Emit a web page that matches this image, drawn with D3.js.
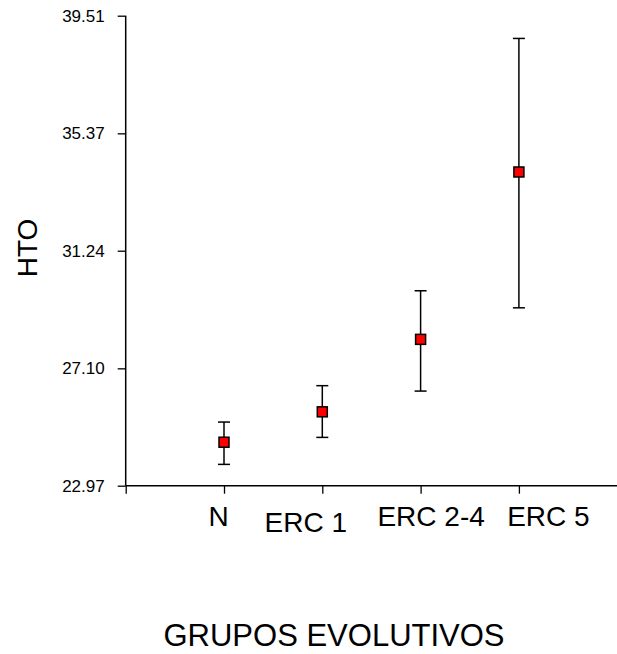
<!DOCTYPE html>
<html>
<head>
<meta charset="utf-8">
<script src="https://cdn.jsdelivr.net/npm/d3@7"></script>
<style>
  body { margin: 0; background: #fff; }
  text { font-family: "Liberation Sans", Arial, sans-serif; fill: #000; }
</style>
</head>
<body>
<div id="chart"></div>
<script>
// groups and HTO values (mean, lower, upper)
var groups = ["N", "ERC 1", "ERC 2-4", "ERC 5"];
var means = [24.50, 25.57, 28.12, 34.01];
var lows = [23.72, 24.67, 26.30, 29.23];
var highs = [25.21, 26.49, 29.83, 38.71];
var yTicks = [22.97, 27.10, 31.24, 35.37, 39.51];

var width = 617, height = 654;
var x0 = 125.7, yTop = 15.7, yBottom = 485.7, step = 98.3;

// category labels are not centred on their ticks in the original
var labelShift = { "N": -6, "ERC 1": -17, "ERC 2-4": 10, "ERC 5": 29 };
var labelDrop = { "ERC 1": 5.5 };

var svg = d3.select('#chart').append('svg')
    .attr("width", width)
    .attr("height", height);

var y = d3.scaleLinear()
    .domain([22.97, 39.51])
    .range([yBottom, yTop]);

var x = d3.scalePoint()
    .domain(["", ...groups])
    .range([x0, x0 + step * groups.length]);

var data = groups.map(function (g, i) {
    return { name: g, mean: means[i], lo: lows[i], hi: highs[i] };
});

// y axis
var yAxis = svg.append("g")
    .attr("transform", "translate(" + x0 + ",0)")
    .call(d3.axisLeft(y).tickValues(yTicks).tickFormat(d3.format(".2f")).tickSize(8).tickPadding(13));
yAxis.attr("font-size", 17).attr("font-family", "'Liberation Sans', Arial, sans-serif");
yAxis.select(".domain").attr("d", "M0," + yTop + "V" + yBottom).attr("stroke-width", 1.5);
yAxis.selectAll(".tick line").attr("stroke-width", 1.3);
yAxis.selectAll("text").attr("fill", "#000");

// x axis
var xAxis = svg.append("g")
    .attr("transform", "translate(0," + yBottom + ")")
    .call(d3.axisBottom(x).tickSize(8).tickPadding(14));
xAxis.attr("font-size", 28).attr("font-family", "'Liberation Sans', Arial, sans-serif");
xAxis.select(".domain").attr("d", "M" + x0 + ",0H" + width).attr("stroke-width", 1.5);
xAxis.selectAll(".tick line").attr("stroke-width", 1.3);
xAxis.selectAll("text").attr("fill", "#000")
    .attr("dy", null)
    .attr("y", d => 40.5 + (labelDrop[d] || 0))
    .attr("x", d => labelShift[d] || 0);

// error bars
var bars = svg.selectAll(".err")
    .data(data)
    .enter().append("g")
    .attr("class", "err")
    .attr("stroke", "#000")
    .attr("stroke-width", 1.5);

bars.append("line")
    .attr("x1", d => x(d.name)).attr("x2", d => x(d.name))
    .attr("y1", d => y(d.lo)).attr("y2", d => y(d.hi));
bars.append("line")
    .attr("x1", d => x(d.name) - 6).attr("x2", d => x(d.name) + 6)
    .attr("y1", d => y(d.hi)).attr("y2", d => y(d.hi));
bars.append("line")
    .attr("x1", d => x(d.name) - 6).attr("x2", d => x(d.name) + 6)
    .attr("y1", d => y(d.lo)).attr("y2", d => y(d.lo));

// markers
svg.selectAll(".pt")
    .data(data)
    .enter().append("rect")
    .attr("class", "pt")
    .attr("x", d => x(d.name) - 5)
    .attr("y", d => y(d.mean) - 5)
    .attr("width", 10)
    .attr("height", 10)
    .attr("fill", "#ff0000")
    .attr("stroke", "#000")
    .attr("stroke-width", 1.5);

// axis titles
svg.append("text")
    .attr("transform", "translate(37,248) rotate(-90)")
    .attr("text-anchor", "middle")
    .style("font-size", "28px")
    .text("HTO");

svg.append("text")
    .attr("x", 334)
    .attr("y", 646)
    .attr("text-anchor", "middle")
    .style("font-size", "31px")
    .text("GRUPOS EVOLUTIVOS");
</script>
</body>
</html>
